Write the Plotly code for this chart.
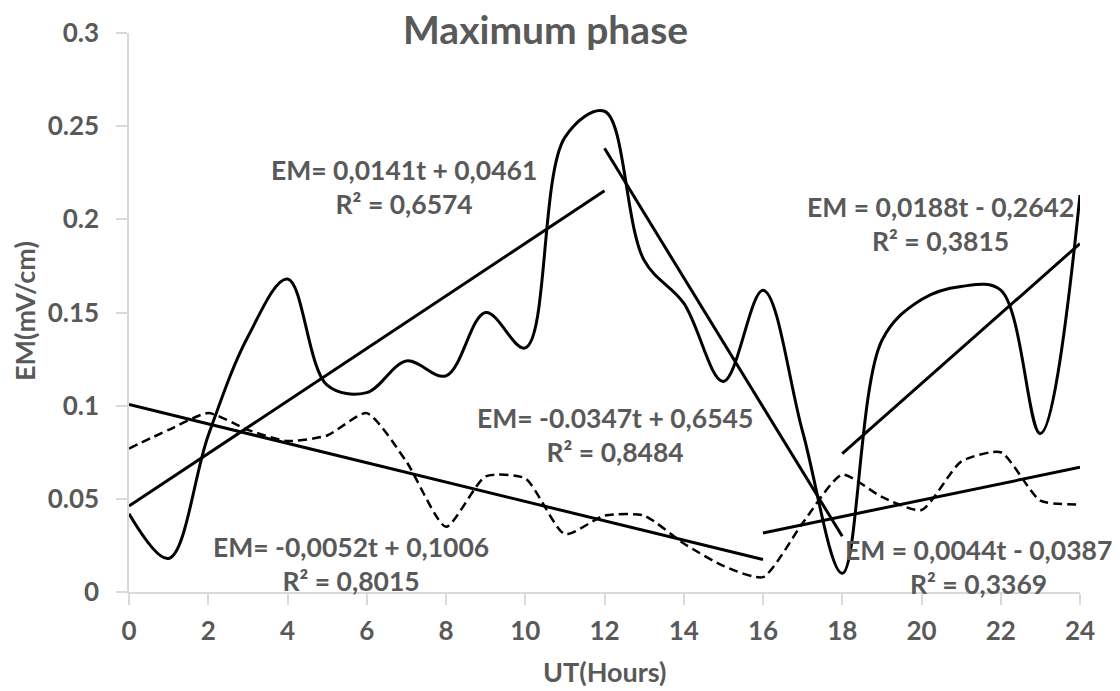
import plotly.graph_objects as go

hours = list(range(0, 25))
em_solid = [0.042, 0.018, 0.084, 0.137, 0.168, 0.111, 0.107, 0.124, 0.116, 0.150,
            0.131, 0.244, 0.258, 0.178, 0.155, 0.113, 0.162, 0.086, 0.010, 0.135,
            0.157, 0.164, 0.162, 0.085, 0.213]
em_dashed = [0.077, 0.087, 0.096, 0.087, 0.081, 0.084, 0.096, 0.070, 0.035, 0.062,
             0.061, 0.031, 0.041, 0.041, 0.026, 0.014, 0.008, 0.037, 0.063, 0.051,
             0.044, 0.070, 0.075, 0.049, 0.047]

# trend lines: (t_start, t_end) and (value_start, value_end)
trend_t = [[0, 12], [0, 16], [12, 18], [18, 24], [16, 24]]
trend_v = [[0.0461, 0.2153], [0.1006, 0.0174], [0.2381, 0.0299], [0.0742, 0.1870], [0.0317, 0.0669]]
trend_labels = [
    "EM= 0,0141t + 0,0461<br>R² = 0,6574",
    "EM= -0,0052t + 0,1006<br>R² = 0,8015",
    "EM= -0.0347t + 0,6545<br>R² = 0,8484",
    "EM = 0,0188t - 0,2642<br>R² = 0,3815",
    "EM = 0,0044t - 0,0387<br>R² = 0,3369",
]
label_pos = [(6.94, 0.2175), (5.6, 0.015), (12.27, 0.0842), (20.47, 0.1977), (21.45, 0.0134)]

x_ticks = list(range(0, 25, 2))
y_ticks = [0, 0.05, 0.1, 0.15, 0.2, 0.25, 0.3]
y_tick_text = ["0", "0.05", "0.1", "0.15", "0.2", "0.25", "0.3"]

GRAY = "#595959"
AXIS = "#d9d9d9"
FONT = "Lato"

fig = go.Figure()
fig.add_trace(go.Scatter(x=hours, y=em_solid, mode="lines",
                         line=dict(color="black", width=3, shape="spline", smoothing=1.0),
                         showlegend=False, hoverinfo="skip"))
fig.add_trace(go.Scatter(x=hours, y=em_dashed, mode="lines",
                         line=dict(color="black", width=2.5, shape="spline", smoothing=0.6, dash="9px,5px"),
                         showlegend=False, hoverinfo="skip"))
for tt, vv in zip(trend_t, trend_v):
    fig.add_trace(go.Scatter(x=tt, y=vv, mode="lines",
                             line=dict(color="black", width=3),
                             showlegend=False, hoverinfo="skip"))

for txt, (ax, ay) in zip(trend_labels, label_pos):
    fig.add_annotation(x=ax, y=ay, xref="x", yref="y", text=txt, showarrow=False,
                       font=dict(family=FONT, size=26.5, color=GRAY, weight="bold"),
                       align="center", xanchor="center", yanchor="middle")

# chart title
fig.add_annotation(x=(537 - 121) / 951, y=(584 - 21) / 559, xref="paper", yref="paper",
                   text="Maximum phase", showarrow=False,
                   font=dict(family=FONT, size=39, color=GRAY, weight="bold"),
                   xanchor="center", yanchor="middle")
# axis titles
fig.add_annotation(x=0.5, y=-0.143, xref="paper", yref="paper", text="UT(Hours)", showarrow=False,
                   font=dict(family=FONT, size=27, color=GRAY, weight="bold"),
                   xanchor="center", yanchor="middle")
fig.add_annotation(x=-0.1094, y=0.5027, xref="paper", yref="paper", text="EM(mV/cm)", showarrow=False,
                   textangle=-90, font=dict(family=FONT, size=27, color=GRAY, weight="bold"),
                   xanchor="center", yanchor="middle")

tick_font = dict(family=FONT, size=26, color=GRAY, weight="bold")
fig.update_layout(
    width=1112, height=683,
    margin=dict(l=121, r=40, t=25, b=99),
    paper_bgcolor="white", plot_bgcolor="white",
    xaxis=dict(range=[0, 24], tickvals=x_ticks, showgrid=False, zeroline=False,
               showline=True, linecolor=AXIS, linewidth=1.5, automargin=False,
               ticks="outside", ticklen=11, tickcolor=AXIS, tickwidth=1.5,
               ticklabelstandoff=4, tickfont=tick_font),
    yaxis=dict(range=[0, 0.3], tickvals=y_ticks, ticktext=y_tick_text, showgrid=False, zeroline=False,
               showline=True, linecolor=AXIS, linewidth=1.5, automargin=False,
               ticks="outside", ticklen=11, tickcolor=AXIS, tickwidth=1.5,
               ticklabelstandoff=12, tickfont=tick_font),
)

fig.write_html("out.html")
